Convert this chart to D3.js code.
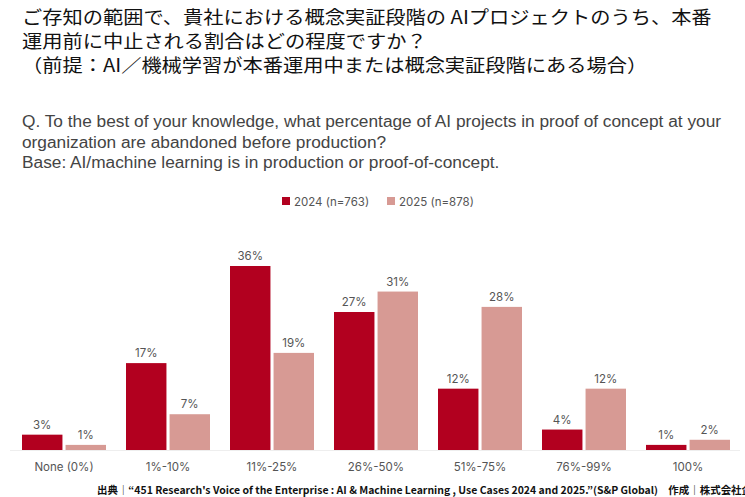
<!DOCTYPE html>
<html>
<head>
  <meta charset="utf-8">
  <title>PoC abandonment rate</title>
  <script src="https://d3js.org/d3.v7.min.js"></script>
  <style>
    body { margin: 0; background: #fff; }
    .jp { font-family: "Noto Sans CJK JP", sans-serif; }
    .en { font-family: "Liberation Sans", Arial, sans-serif; }
    .lbl { font-family: Inter, Roboto, sans-serif; fill: #555; }
  </style>
</head>
<body>
<div id="chart"></div>
<script>
var width = 745,
  height = 497;

// data
var categories = ["None (0%)", "1%-10%", "11%-25%", "26%-50%", "51%-75%", "76%-99%", "100%"];
var series = ["2024 (n=763)", "2025 (n=878)"];
var values2024 = [3, 17, 36, 27, 12, 4, 1];
var values2025 = [1, 7, 19, 31, 28, 12, 2];
var colors = ["#b2001f", "#d79a94"];

var titleLines = [
  "ご存知の範囲で、貴社における概念実証段階の AIプロジェクトのうち、本番",
  "運用前に中止される割合はどの程度ですか？",
  "（前提：AI／機械学習が本番運用中または概念実証段階にある場合）"
];
var questionLines = [
  "Q. To the best of your knowledge, what percentage of AI projects in proof of concept at your",
  "organization are abandoned before production?",
  "Base: AI/machine learning is in production or proof-of-concept."
];
var source = "出典｜“451 Research's Voice of the Enterprise : AI & Machine Learning , Use Cases 2024 and 2025.”(S&P Global)　作成｜株式会社企";

var svg = d3.select("#chart").append("svg")
  .attr("width", width)
  .attr("height", height);

// title glyphs in the picture are wider than tall, so stretch horizontally
svg.append("g")
  .attr("transform", "translate(22,0) scale(1.125,1)")
  .selectAll("text")
  .data(titleLines)
  .enter().append("text")
  .attr("class", "jp")
  .attr("x", 0)
  .attr("y", (d, i) => 24 + i * 24)
  .attr("font-size", 18)
  .attr("fill", "#111")
  .text(d => d);

svg.append("g").selectAll("text")
  .data(questionLines)
  .enter().append("text")
  .attr("class", "en")
  .attr("x", 22)
  .attr("y", (d, i) => 127 + i * 20.5)
  .attr("font-size", 17.3)
  .attr("fill", "#444")
  .text(d => d);

// legend
var legend = svg.append("g").selectAll("g")
  .data(series)
  .enter().append("g")
  .attr("transform", (d, i) => "translate(" + (282 + i * 105) + ",197)");
legend.append("rect")
  .attr("width", 8).attr("height", 8)
  .attr("fill", (d, i) => colors[i]);
legend.append("text")
  .attr("class", "lbl")
  .attr("x", 12).attr("y", 8.5)
  .attr("font-size", 11.5)
  .text(d => d);

// chart
var baseY = 450;
var x0 = d3.scaleBand()
  .domain(categories)
  .range([12, 740])
  .paddingInner(20 / 104)
  .paddingOuter(10 / 104);
var x1 = d3.scaleBand()
  .domain([0, 1])
  .range([0, x0.bandwidth()])
  .paddingInner(6 / 84);
var y = d3.scaleLinear()
  .domain([0, 36])
  .range([baseY, 266]);

svg.append("line")
  .attr("x1", 10).attr("x2", 740)
  .attr("y1", baseY + 0.5).attr("y2", baseY + 0.5)
  .attr("stroke", "#eee");

var rows = categories.map((c, i) => ({ cat: c, vals: [values2024[i], values2025[i]] }));

var groups = svg.append("g").selectAll("g")
  .data(rows)
  .enter().append("g")
  .attr("transform", d => "translate(" + x0(d.cat) + ",0)");

var bars = groups.selectAll("g")
  .data(d => d.vals.map((v, k) => ({ k: k, v: v })))
  .enter().append("g");

bars.append("rect")
  .attr("x", d => x1(d.k))
  .attr("width", x1.bandwidth())
  .attr("y", d => y(d.v))
  .attr("height", d => baseY - y(d.v))
  .attr("fill", d => colors[d.k]);

bars.append("text")
  .attr("class", "lbl")
  .attr("x", d => x1(d.k) + x1.bandwidth() / 2)
  .attr("y", d => y(d.v) - 6)
  .attr("text-anchor", "middle")
  .attr("font-size", 11.5)
  .text(d => d.v + "%");

svg.append("g").selectAll("text")
  .data(categories)
  .enter().append("text")
  .attr("class", "lbl")
  .attr("x", d => x0(d) + x0.bandwidth() / 2)
  .attr("y", 471)
  .attr("text-anchor", "middle")
  .attr("font-size", 11.5)
  .attr("fill", "#666")
  .text(d => d);

svg.append("text")
  .attr("class", "jp")
  .attr("x", 97)
  .attr("y", 494)
  .attr("font-size", 10)
  .attr("font-weight", "bold")
  .attr("fill", "#111")
  .attr("textLength", 655)
  .attr("lengthAdjust", "spacingAndGlyphs")
  .text(source);
</script>
</body>
</html>
